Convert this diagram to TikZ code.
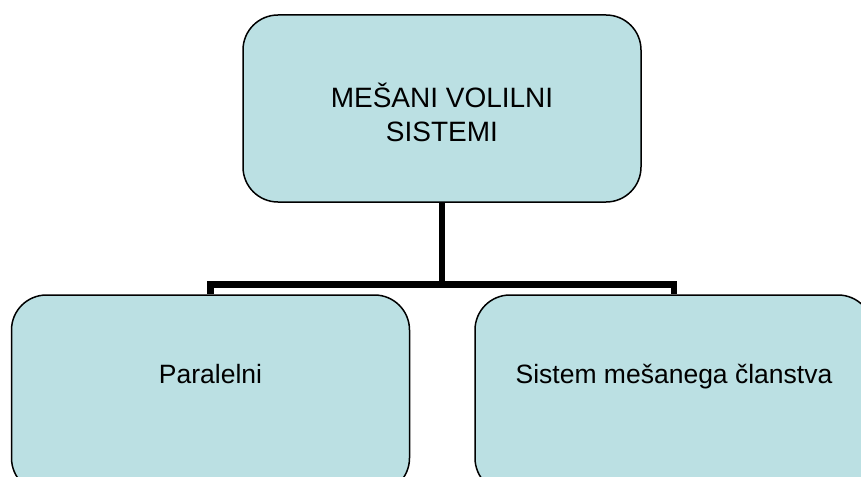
\documentclass[tikz,border=0pt]{standalone}
\usepackage{fontspec}
\setmainfont{Liberation Sans}
\definecolor{boxfill}{HTML}{BBE0E3}
\tikzset{
  orgbox/.style={draw, line width=1.5pt, fill=boxfill, rounded corners=35pt,
    minimum width=398pt, inner sep=0pt},
  orgline/.style={line width=6.5pt}
}
\begin{document}
\begin{tikzpicture}[x=1pt,y=-1pt]
      \useasboundingbox (0,0) rectangle (861,476);
      \draw
        (442,108.5) node[orgbox, minimum height=187pt, align=center,
          font=\fontsize{28}{33}\selectfont, text height=75pt, text depth=10pt]
          (top){MEŠANI VOLILNI\\ SISTEMI}
        (210.5,394) node[orgbox, minimum height=198pt,
          font=\fontsize{26.5}{32}\selectfont, text height=20pt, text depth=42pt]
          (par){Paralelni}
        (674,394) node[orgbox, minimum height=198pt,
          font=\fontsize{26.5}{32}\selectfont, text height=20pt, text depth=42pt]
          (mix){Sistem mešanega članstva};
      \begin{scope}[orgline]
        \draw (top.south) -- ++(0,81.5) coordinate (hub);
        \draw (hub) -| (par.north);
        \draw (hub) -| (mix.north);
      \end{scope}
    \end{tikzpicture}
\end{document}
